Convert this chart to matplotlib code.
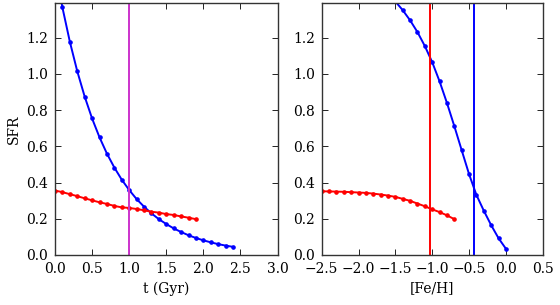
import matplotlib
matplotlib.use("Agg")
import matplotlib.pyplot as plt

# Left panel: SFR vs time
t_blue = [0.0, 0.1, 0.2, 0.3, 0.4, 0.5, 0.6, 0.7, 0.8, 0.9, 1.0, 1.1, 1.2,
          1.3, 1.4, 1.5, 1.6, 1.7, 1.8, 1.9, 2.0, 2.1, 2.2, 2.3, 2.4]
sfr_blue_t = [1.59, 1.367, 1.178, 1.015, 0.875, 0.754, 0.650, 0.560, 0.483,
              0.416, 0.359, 0.309, 0.267, 0.230, 0.198, 0.171, 0.147, 0.127,
              0.109, 0.094, 0.081, 0.070, 0.060, 0.052, 0.045]
t_red = [0.0, 0.1, 0.2, 0.3, 0.4, 0.5, 0.6, 0.7, 0.8, 0.9, 1.0, 1.1, 1.2,
         1.3, 1.4, 1.5, 1.6, 1.7, 1.8, 1.9]
sfr_red_t = [0.356, 0.347, 0.336, 0.325, 0.313, 0.302, 0.291, 0.282, 0.271,
             0.263, 0.260, 0.254, 0.247, 0.239, 0.234, 0.226, 0.221, 0.213,
             0.206, 0.198]
t_vline = 1.0

# Right panel: SFR vs [Fe/H]
feh_blue = [-1.6, -1.5, -1.4, -1.3, -1.2, -1.1, -1.0, -0.9, -0.8, -0.7, -0.6,
            -0.5, -0.4, -0.3, -0.2, -0.1, 0.0]
sfr_blue_feh = [1.45, 1.40, 1.352, 1.296, 1.231, 1.154, 1.065, 0.959, 0.840,
                0.712, 0.579, 0.447, 0.332, 0.245, 0.165, 0.093, 0.035]
feh_red = [-2.5, -2.4, -2.3, -2.2, -2.1, -2.0, -1.9, -1.8, -1.7, -1.6, -1.5,
           -1.4, -1.3, -1.2, -1.1, -1.0, -0.9, -0.8, -0.7]
sfr_red_feh = [0.352, 0.351, 0.350, 0.349, 0.347, 0.345, 0.343, 0.339, 0.334,
               0.328, 0.321, 0.310, 0.299, 0.284, 0.269, 0.252, 0.237, 0.219,
               0.198]
feh_vline_red = -1.034
feh_vline_blue = -0.434

plt.rcParams.update({
    "font.family": "DejaVu Serif",
    "font.size": 10,
    "xtick.direction": "in",
    "ytick.direction": "in",
    "xtick.top": True,
    "ytick.right": True,
    "xtick.major.size": 4,
    "ytick.major.size": 4,
    "xtick.major.width": 0.6,
    "ytick.major.width": 0.6,
    "xtick.major.pad": 5,
    "ytick.major.pad": 5,
    "axes.linewidth": 1.0,
    "axes.edgecolor": "#333333",
})

fig = plt.figure(figsize=(5.6, 3.05), dpi=100)
ax1 = fig.add_axes([55 / 560, 1 - 255 / 305, (277.5 - 55) / 560, (255 - 3.3) / 305])
ax2 = fig.add_axes([321.7 / 560, 1 - 255 / 305, (542.7 - 321.7) / 560, (255 - 3.3) / 305])

lw = 1.4
ms = 2.3
ax1.plot(t_blue, sfr_blue_t, "-o", color="blue", lw=lw, ms=ms, mec="blue")
ax1.plot(t_red, sfr_red_t, "-o", color="red", lw=lw, ms=ms, mec="red")
ax1.axvline(t_vline, color="#cc33cc", lw=lw)
ax1.set_xlim(0, 3.0)
ax1.set_ylim(0, 1.39)
ax1.set_xticks([0.0, 0.5, 1.0, 1.5, 2.0, 2.5, 3.0])
ax1.set_yticks([0.0, 0.2, 0.4, 0.6, 0.8, 1.0, 1.2])
ax1.set_xlabel("t (Gyr)")
ax1.set_ylabel("SFR")

ax2.plot(feh_blue, sfr_blue_feh, "-o", color="blue", lw=lw, ms=ms, mec="blue")
ax2.plot(feh_red, sfr_red_feh, "-o", color="red", lw=lw, ms=ms, mec="red")
ax2.axvline(feh_vline_red, color="red", lw=lw)
ax2.axvline(feh_vline_blue, color="blue", lw=lw)
ax2.set_xlim(-2.5, 0.5)
ax2.set_ylim(0, 1.39)
ax2.set_xticks([-2.5, -2.0, -1.5, -1.0, -0.5, 0.0, 0.5])
ax2.set_yticks([0.0, 0.2, 0.4, 0.6, 0.8, 1.0, 1.2])
ax2.set_xlabel("[Fe/H]")

fig.savefig("out.png", dpi=100)
